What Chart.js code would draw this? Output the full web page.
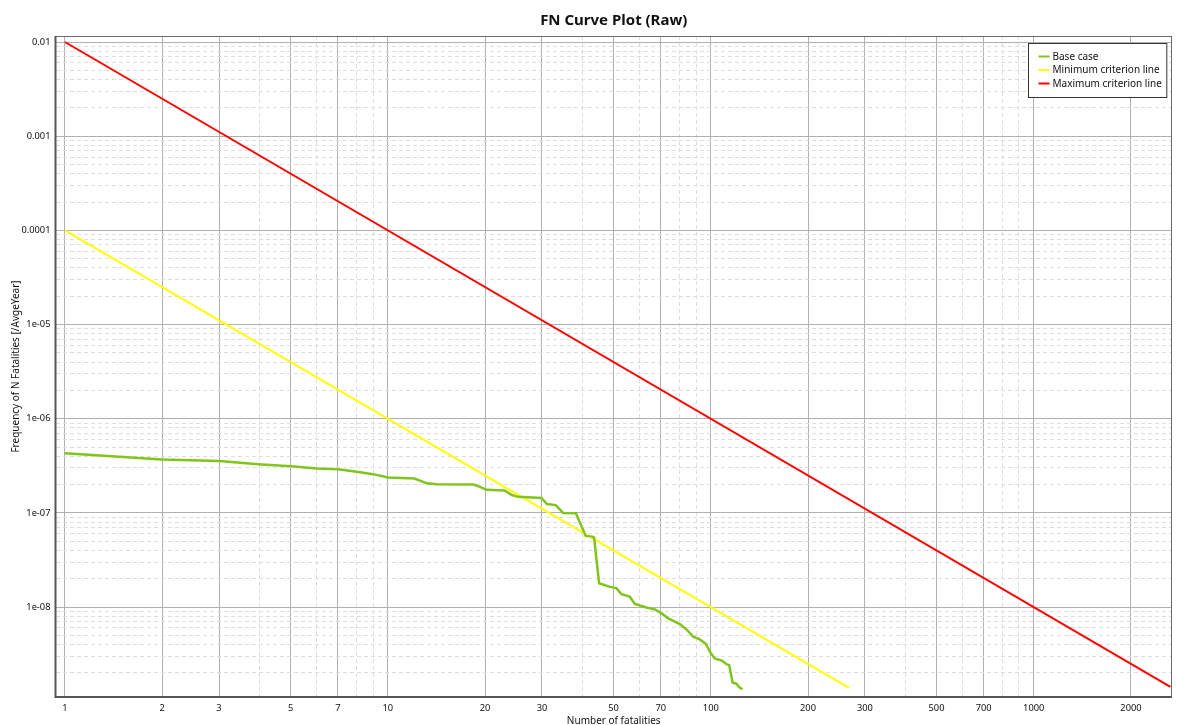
<!DOCTYPE html>
<html><head><meta charset="utf-8">
<script src="https://cdn.jsdelivr.net/npm/chart.js@4.4.1/dist/chart.umd.min.js"></script>
<style>html,body{margin:0;padding:0;background:#fff;}#wrap{width:1177px;height:725px;}</style>
</head><body><div id="wrap"><canvas id="c" width="1177" height="725"></canvas></div>
<script>
const chartTitle = 'FN Curve Plot (Raw)';
const xAxisTitle = 'Number of fatalities';
const yAxisTitle = 'Frequency of N Fatalities [/AvgeYear]';
const seriesNames = ['Base case', 'Minimum criterion line', 'Maximum criterion line'];
const seriesColors = ['#80c41c', '#ffff00', '#ff0000'];

const baseN = [1, 2, 3, 4.06, 5.03, 6.02, 7.02, 8.0, 9.0, 10.0, 12.1, 13.2, 14.2, 18.4, 19.3, 20.2, 23.0, 24.2, 25.3, 29.9, 31.1, 33.1, 34.9, 38.2, 41.0, 43.0, 43.5, 45.1, 48.7, 51.0, 52.9, 56.1, 58.2, 63.2, 67.1, 70.4, 73.8, 80.2, 84.5, 88.2, 92.5, 96.6, 99.3, 102.8, 108.6, 111.8, 114.0, 116.8, 120.2, 122.4, 125.4];
const baseFreq = [4.29e-7, 3.70e-7, 3.55e-7, 3.27e-7, 3.12e-7, 2.96e-7, 2.90e-7, 2.73e-7, 2.58e-7, 2.38e-7, 2.32e-7, 2.06e-7, 2.01e-7, 2.0e-7, 1.89e-7, 1.76e-7, 1.73e-7, 1.55e-7, 1.48e-7, 1.44e-7, 1.24e-7, 1.21e-7, 1.0e-7, 9.9e-8, 5.7e-8, 5.6e-8, 5.5e-8, 1.79e-8, 1.64e-8, 1.59e-8, 1.37e-8, 1.29e-8, 1.08e-8, 9.9e-9, 9.45e-9, 8.57e-9, 7.59e-9, 6.6e-9, 5.7e-9, 4.84e-9, 4.54e-9, 4.05e-9, 3.36e-9, 2.85e-9, 2.69e-9, 2.48e-9, 2.42e-9, 1.58e-9, 1.53e-9, 1.41e-9, 1.34e-9];
const minN = [1, 268];
const minFreq = [1e-4, 1.39e-9];
const maxN = [1, 2650];
const maxFreq = [1e-2, 1.42e-9];

const xTickLabels = [1, 2, 3, 5, 7, 10, 20, 30, 50, 70, 100, 200, 300, 500, 700, 1000, 2000];
const yTickValues = [1e-2, 1e-3, 1e-4, 1e-5, 1e-6, 1e-7, 1e-8];
const yTickLabels = ['0.01', '0.001', '0.0001', '1e-05', '1e-06', '1e-07', '1e-08'];
const xRange = [0.935, 2680];
const yRange = [1.11e-9, 0.01158];

const FONT = '"Noto Sans", "DejaVu Sans", sans-serif';
const TEXT = '#111';

function gridValues(min, max) {
  const out = [];
  for (let e = Math.floor(Math.log10(min)); e <= Math.ceil(Math.log10(max)); e++) {
    for (let m = 1; m <= 9; m++) {
      const v = Number((m * Math.pow(10, e)).toPrecision(10));
      if (v >= min && v <= max) out.push(v);
    }
  }
  return out;
}
const xMajorIdx = v => xTickLabels.findIndex(t => Math.abs(t - v) / t < 1e-6);
const yMajorIdx = v => yTickValues.findIndex(t => Math.abs(t - v) / t < 1e-6);
const pts = (xs, ys) => xs.map((x, i) => ({x: x, y: ys[i]}));

const majorColor = '#b0b0b0', minorColor = '#dedede';

const framePlugin = {
  id: 'frame',
  afterDatasetsDraw(chart) {
    const {ctx, chartArea: a} = chart;
    ctx.save();
    ctx.strokeStyle = '#6a6a6a';
    ctx.lineWidth = 1;
    ctx.beginPath();
    ctx.moveTo(a.left, a.top + 0.5); ctx.lineTo(a.right, a.top + 0.5);
    ctx.moveTo(a.right - 0.5, a.top); ctx.lineTo(a.right - 0.5, a.bottom);
    ctx.stroke();
    ctx.strokeStyle = '#555';
    ctx.lineWidth = 2;
    ctx.beginPath();
    ctx.moveTo(a.left, a.top); ctx.lineTo(a.left, a.bottom);
    ctx.lineTo(a.right, a.bottom);
    ctx.stroke();
    ctx.restore();
  },
  afterDraw(chart) {
    const {ctx, chartArea: a} = chart;
    ctx.save();
    // title
    ctx.fillStyle = TEXT;
    ctx.font = 'bold 15px ' + FONT;
    ctx.textAlign = 'center';
    ctx.textBaseline = 'middle';
    ctx.fillText(chartTitle, (a.left + a.right) / 2, 20.5);
    // legend
    ctx.font = '10px ' + FONT;
    ctx.textAlign = 'left';
    const ds = chart.data.datasets;
    const tw = Math.max(...ds.map(d => ctx.measureText(d.label).width));
    const w = 24 + tw + 5, h = 54;
    const bx = Math.round(a.right - 6 - w) + 0.5, by = a.top + 7 + 0.5;
    ctx.fillStyle = '#fff';
    ctx.fillRect(bx, by, w, h);
    ctx.strokeStyle = '#333';
    ctx.lineWidth = 1;
    ctx.strokeRect(bx, by, w, h);
    ds.forEach((d, i) => {
      const yy = by + 13 + i * 13.5;
      ctx.strokeStyle = d.borderColor;
      ctx.lineWidth = 2;
      ctx.beginPath(); ctx.moveTo(bx + 10, yy); ctx.lineTo(bx + 21, yy); ctx.stroke();
      ctx.fillStyle = TEXT;
      ctx.fillText(d.label, bx + 24, yy + 0.5);
    });
    ctx.restore();
  }
};

const lineDs = (label, data, color, width) => ({
  label: label, data: data, borderColor: color, backgroundColor: color,
  borderWidth: width, pointRadius: 0, tension: 0, fill: false
});

new Chart(document.getElementById('c'), {
  type: 'line',
  data: {
    datasets: [
      lineDs(seriesNames[0], pts(baseN, baseFreq), seriesColors[0], 2.5),
      lineDs(seriesNames[1], pts(minN, minFreq), seriesColors[1], 2),
      lineDs(seriesNames[2], pts(maxN, maxFreq), seriesColors[2], 2)
    ]
  },
  options: {
    responsive: false,
    animation: false,
    layout: {padding: {top: 36, right: 5, left: 0, bottom: 0}},
    plugins: {legend: {display: false}, title: {display: false}, tooltip: {enabled: false}},
    scales: {
      x: {
        type: 'logarithmic', position: 'bottom', min: xRange[0], max: xRange[1],
        afterBuildTicks: s => { s.ticks = gridValues(s.min, s.max).map(v => ({value: v})); },
        afterFit: s => { s.height = 28; },
        ticks: {
          autoSkip: false, maxRotation: 0, minRotation: 0, padding: 6, color: TEXT,
          font: {family: FONT, size: 9.3},
          callback: v => xMajorIdx(v) >= 0 ? String(xTickLabels[xMajorIdx(v)]) : ''
        },
        grid: {drawTicks: false, lineWidth: 1, color: c => (c.tick && xMajorIdx(c.tick.value) >= 0) ? majorColor : minorColor},
        border: {display: false, dash: c => (c.tick && xMajorIdx(c.tick.value) < 0) ? [4, 3] : []},
        title: {display: true, text: xAxisTitle, color: TEXT, font: {family: FONT, size: 10}, padding: {top: 0, bottom: -2}}
      },
      y: {
        type: 'logarithmic', position: 'left', min: yRange[0], max: yRange[1],
        afterBuildTicks: s => { s.ticks = gridValues(s.min, s.max).map(v => ({value: v})); },
        afterFit: s => { s.width = 55.5; },
        ticks: {
          autoSkip: false, padding: 5, color: TEXT,
          font: {family: FONT, size: 9.3},
          callback: v => yMajorIdx(v) >= 0 ? yTickLabels[yMajorIdx(v)] : ''
        },
        grid: {drawTicks: false, lineWidth: 1, color: c => (c.tick && yMajorIdx(c.tick.value) >= 0) ? majorColor : minorColor},
        border: {display: false, dash: c => (c.tick && yMajorIdx(c.tick.value) < 0) ? [4, 3] : []},
        title: {display: true, text: yAxisTitle, color: TEXT, font: {family: FONT, size: 10}, padding: {top: 10, bottom: 0}}
      }
    }
  },
  plugins: [framePlugin]
});
</script>
</body></html>
